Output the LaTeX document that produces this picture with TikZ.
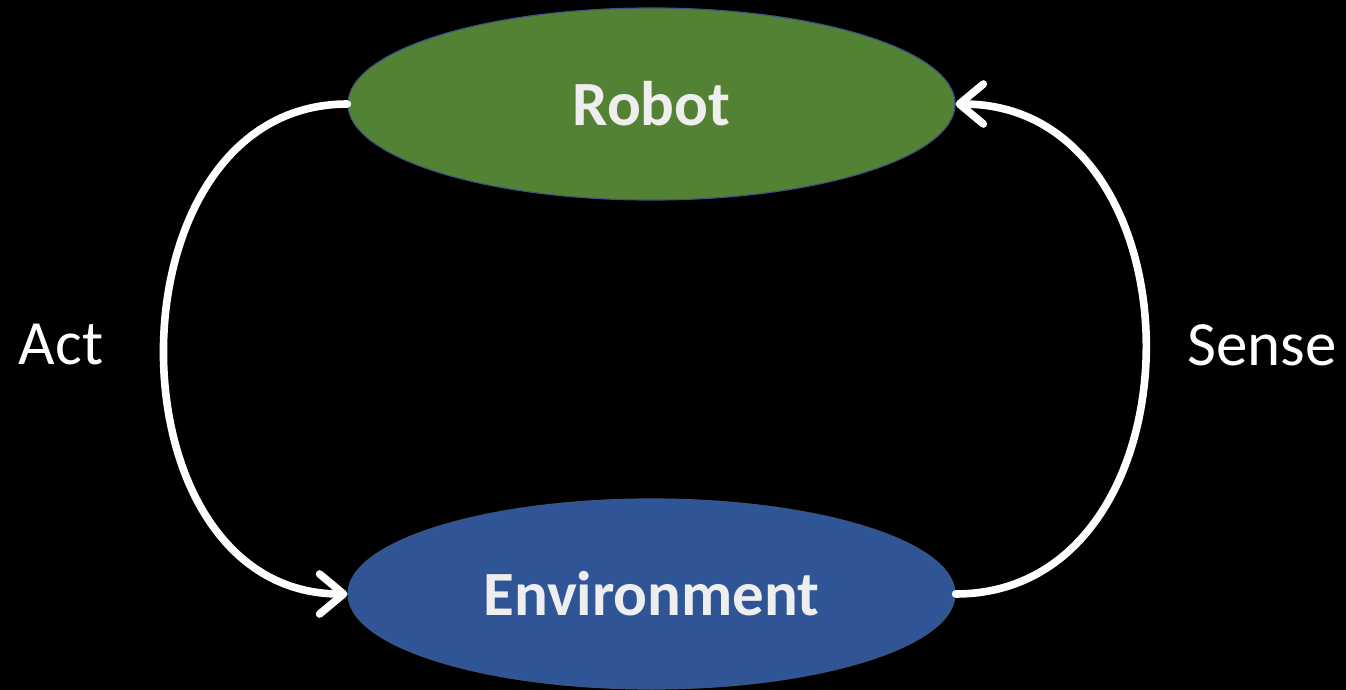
\documentclass[tikz,border=0pt]{standalone}
\usepackage{fontspec}
\setmainfont{Carlito}
\usetikzlibrary{arrows.meta,shapes.geometric}
\definecolor{robotgreen}{HTML}{548235}
\definecolor{envblue}{HTML}{2F5597}
\definecolor{ovaledge}{HTML}{3A5582}
\definecolor{labelgrey}{HTML}{EEEEEE}

\begin{document}
\begin{tikzpicture}[
  x=0.5pt,
  y=-0.5pt,
  line join=round,
  oval/.style={ellipse,draw=ovaledge,line width=0.6pt,inner sep=0pt,
    minimum width=303.5pt,minimum height=96pt,text=labelgrey,
    font=\fontsize{31.5}{36}\selectfont\bfseries},
  side/.style={text=white,font=\fontsize{31.5}{36}\selectfont},
  loop/.style={draw=white,line width=3.8pt,line cap=round,
    -{Straight Barb[round,length=12pt,width=20pt]}}
]
  % Black slide frame.
  \fill[black] (0,0) rectangle (1346,690);
  \useasboundingbox (0,0) rectangle (1346,690);

  % The two states of the loop.
  \node[oval,fill=robotgreen] (robot) at (651.5,104) {Robot};
  \node[oval,fill=envblue,minimum height=95pt] (env) at (651.5,594) {Environment};

  % Side labels.
  \node[side] (act) at (61,345) {Act};
  \node[side] (sense) at (1262,345) {Sense};

  % Act goes down on the left, Sense comes back up on the right.
  \draw[loop] (robot.west) .. controls +(-244,0) and +(-244,0) .. (env.west);
  \draw[loop] (env.east) .. controls +(253,0) and +(253,0) .. (robot.east);
\end{tikzpicture}
\end{document}
